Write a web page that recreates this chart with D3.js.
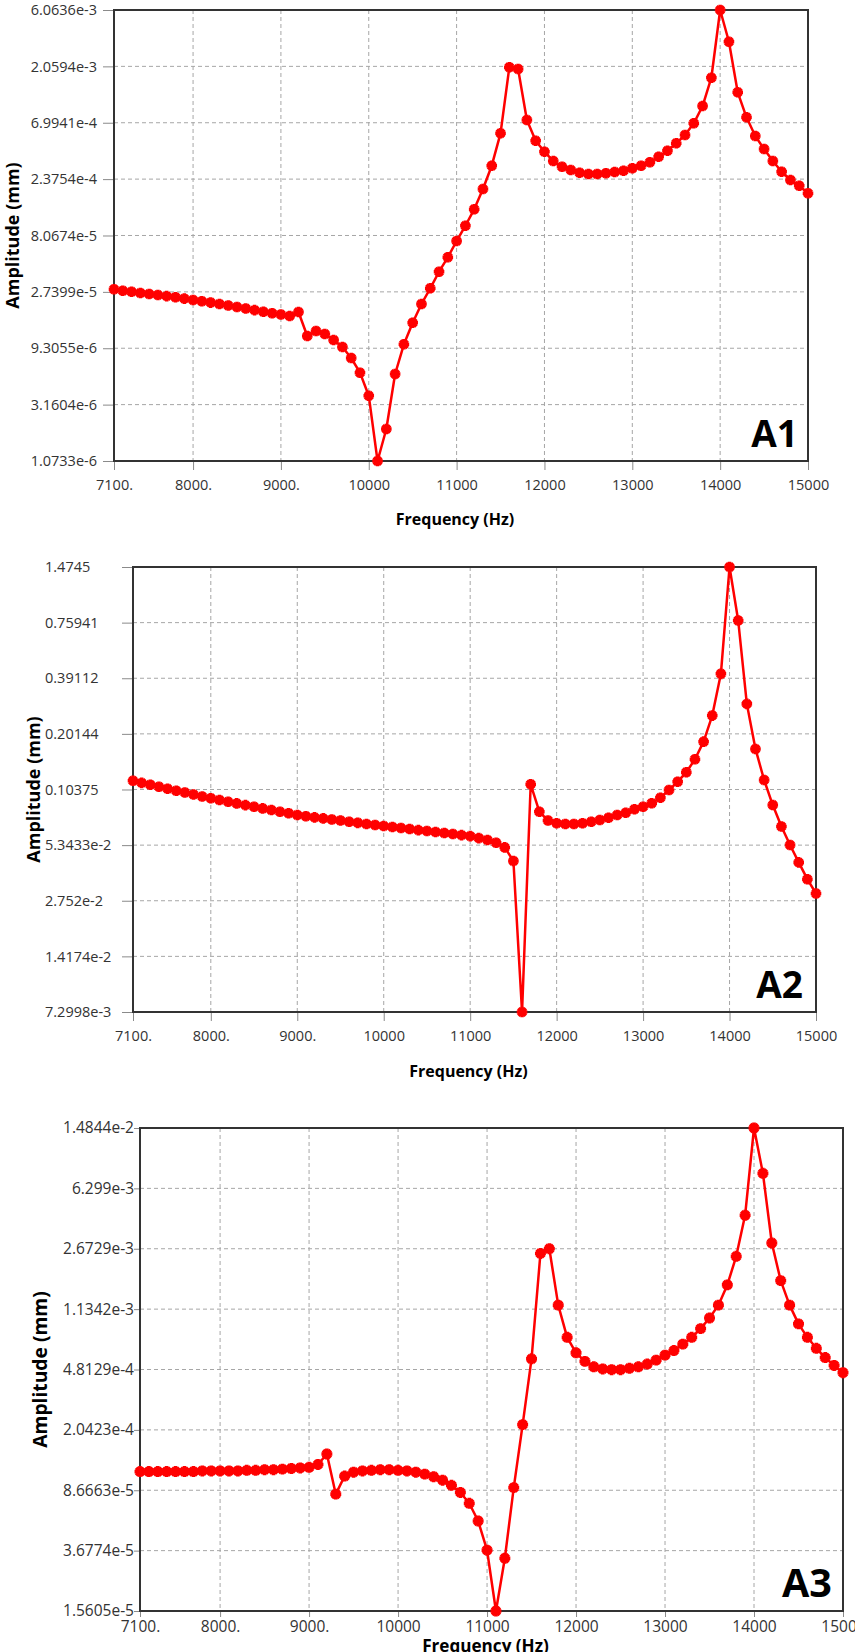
<!DOCTYPE html>
<meta charset="utf-8">
<style>
body { margin: 0; background: #fff; }
svg { display: block; font-family: "Open Sans", sans-serif; }
.grid line { stroke: #a6a6a6; stroke-width: 1px; stroke-dasharray: 4,3; }
.axis .domain { display: none; }
.axis line { stroke: #8a8a8a; stroke-width: 1px; }
.axis text { fill: #333; font-family: "Open Sans", sans-serif; }
.title { fill: #000; font-weight: bold; }
.frame { fill: none; stroke: #333; stroke-width: 2px; }
.curve { fill: none; stroke: #ff0000; stroke-width: 2.5px; stroke-linejoin: round; }
.marker { fill: #ff0000; }
.tag { font-weight: bold; fill: #000; }
</style>
<body>
<script src="https://d3js.org/d3.v7.min.js"></script>
<script>
var width = 855,
    height = 1652;

// frequency steps (Hz)
var freq = [7100, 7200, 7300, 7400, 7500, 7600, 7700, 7800, 7900, 8000,
            8100, 8200, 8300, 8400, 8500, 8600, 8700, 8800, 8900, 9000,
            9100, 9200, 9300, 9400, 9500, 9600, 9700, 9800, 9900, 10000,
            10100, 10200, 10300, 10400, 10500, 10600, 10700, 10800, 10900, 11000,
            11100, 11200, 11300, 11400, 11500, 11600, 11700, 11800, 11900, 12000,
            12100, 12200, 12300, 12400, 12500, 12600, 12700, 12800, 12900, 13000,
            13100, 13200, 13300, 13400, 13500, 13600, 13700, 13800, 13900, 14000,
            14100, 14200, 14300, 14400, 14500, 14600, 14700, 14800, 14900, 15000];

// amplitudes (mm)
var ampA1 = [2.877e-5, 2.801e-5, 2.743e-5, 2.686e-5, 2.630e-5, 2.580e-5, 2.526e-5, 2.474e-5, 2.408e-5, 2.345e-5,
             2.287e-5, 2.231e-5, 2.172e-5, 2.110e-5, 2.050e-5, 1.992e-5, 1.932e-5, 1.874e-5, 1.817e-5, 1.776e-5,
             1.726e-5, 1.863e-5, 1.177e-5, 1.295e-5, 1.222e-5, 1.090e-5, 9.53e-6, 7.72e-6, 5.83e-6, 3.75e-6,
             1.0733e-6, 1.98e-6, 5.68e-6, 1.003e-5, 1.518e-5, 2.172e-5, 2.934e-5, 4.031e-5, 5.312e-5, 7.26e-5,
             9.73e-5, 1.332e-4, 1.966e-4, 3.072e-4, 5.712e-4, 2.022e-3, 1.957e-3, 7.37e-4, 4.957e-4, 4.015e-4,
             3.360e-4, 3.013e-4, 2.828e-4, 2.686e-4, 2.620e-4, 2.620e-4, 2.655e-4, 2.722e-4, 2.790e-4, 2.921e-4,
             3.072e-4, 3.277e-4, 3.649e-4, 4.093e-4, 4.717e-4, 5.529e-4, 6.918e-4, 9.63e-4, 1.657e-3, 6.0636e-3,
             3.303e-3, 1.253e-3, 7.76e-4, 5.424e-4, 4.228e-4, 3.360e-4, 2.738e-4, 2.335e-4, 2.094e-4, 1.810e-4];

var ampA2 = [0.1152, 0.1123, 0.1097, 0.1072, 0.1046, 0.1023, 0.1000, 0.0977, 0.0955, 0.0934,
             0.0915, 0.0897, 0.0879, 0.0861, 0.0845, 0.0828, 0.0812, 0.0796, 0.0781, 0.0765,
             0.0754, 0.0744, 0.0735, 0.0725, 0.0716, 0.0706, 0.0697, 0.0688, 0.0679, 0.0671,
             0.0663, 0.0655, 0.0647, 0.0639, 0.0632, 0.0625, 0.0617, 0.0610, 0.0602, 0.0595,
             0.0581, 0.0568, 0.0550, 0.0520, 0.0442, 7.2998e-3, 0.1104, 0.0796, 0.0716, 0.0693,
             0.0687, 0.0687, 0.0693, 0.0706, 0.0721, 0.0741, 0.0765, 0.0786, 0.0819, 0.0845,
             0.0880, 0.0940, 0.1031, 0.1139, 0.1274, 0.1488, 0.1836, 0.2505, 0.4122, 1.4745,
             0.7792, 0.2881, 0.1683, 0.1162, 0.0862, 0.0668, 0.0535, 0.0435, 0.0356, 0.0300];

var ampA3 = [1.13e-4, 1.13e-4, 1.13e-4, 1.13e-4, 1.13e-4, 1.13e-4, 1.13e-4, 1.14e-4, 1.14e-4, 1.14e-4,
             1.14e-4, 1.14e-4, 1.15e-4, 1.15e-4, 1.16e-4, 1.16e-4, 1.17e-4, 1.18e-4, 1.19e-4, 1.20e-4,
             1.25e-4, 1.45e-4, 8.2e-5, 1.06e-4, 1.12e-4, 1.14e-4, 1.15e-4, 1.16e-4, 1.16e-4, 1.15e-4,
             1.14e-4, 1.12e-4, 1.09e-4, 1.05e-4, 1.0e-4, 9.3e-5, 8.4e-5, 7.2e-5, 5.6e-5, 3.7e-5,
             1.5605e-5, 3.3e-5, 9.0e-5, 2.2e-4, 5.6e-4, 2.5e-3, 2.6729e-3, 1.2e-3, 7.6e-4, 6.1e-4,
             5.4e-4, 5.0e-4, 4.85e-4, 4.8e-4, 4.8e-4, 4.9e-4, 5.0e-4, 5.2e-4, 5.5e-4, 5.9e-4,
             6.3e-4, 6.9e-4, 7.6e-4, 8.6e-4, 1.0e-3, 1.2e-3, 1.6e-3, 2.4e-3, 4.3e-3, 1.4844e-2,
             7.8e-3, 2.9e-3, 1.7e-3, 1.2e-3, 9.2e-4, 7.6e-4, 6.5e-4, 5.7e-4, 5.1e-4, 4.6e-4];

// tick labels
var xTicks = [7100, 8000, 9000, 10000, 11000, 12000, 13000, 14000, 15000];
var xTickText = ["7100.", "8000.", "9000.", "10000", "11000", "12000", "13000", "14000", "15000"];
var yTicksA1 = ["1.0733e-6", "3.1604e-6", "9.3055e-6", "2.7399e-5", "8.0674e-5", "2.3754e-4", "6.9941e-4", "2.0594e-3", "6.0636e-3"];
var yTicksA2 = ["7.2998e-3", "1.4174e-2", "2.752e-2", "5.3433e-2", "0.10375", "0.20144", "0.39112", "0.75941", "1.4745"];
var yTicksA3 = ["1.5605e-5", "3.6774e-5", "8.6663e-5", "2.0423e-4", "4.8129e-4", "1.1342e-3", "2.6729e-3", "6.299e-3", "1.4844e-2"];

var panels = [
    {tag: "A1", amp: ampA1, yTicks: yTicksA1, left: 114, right: 808, top: 10, bottom: 461,
     fs: 1, yAlign: "end", ySize: 11, yPad: 6, xSize: 9, xPad: 10,
     yTitleX: 13, xTitleY: 525, tagX: 798},
    {tag: "A2", amp: ampA2, yTicks: yTicksA2, left: 133, right: 816, top: 567, bottom: 1012,
     fs: 1, yAlign: "start", yLabelLeft: 45, ySize: 11, yPad: 6, xSize: 9, xPad: 10,
     yTitleX: 34, xTitleY: 1077, tagX: 803},
    {tag: "A3", amp: ampA3, yTicks: yTicksA3, left: 140, right: 843, top: 1128, bottom: 1611,
     fs: 1.07, yAlign: "end", ySize: 6, yPad: 0, xSize: 6, xPad: 4,
     yTitleX: 40, xTitleY: 1652, tagX: 832}
];

var svg = d3.select('body')
    .append('svg')
    .attr('width', width)
    .attr('height', height);

function drawPanel(p) {
    var g = svg.append('g');
    var x = d3.scaleLinear().domain([7100, 15000]).range([p.left, p.right]);
    var yVals = p.yTicks.map(Number);
    var y = d3.scaleLog().domain([yVals[0], yVals[yVals.length - 1]]).range([p.bottom, p.top]);

    // dashed grid
    var grid = g.append('g').attr('class', 'grid');
    grid.selectAll('line.v')
        .data(xTicks.slice(1, -1))
        .enter().append('line')
        .attr('x1', d => x(d)).attr('x2', d => x(d))
        .attr('y1', p.top).attr('y2', p.bottom);
    grid.selectAll('line.h')
        .data(yVals.slice(1, -1))
        .enter().append('line')
        .attr('x1', p.left).attr('x2', p.right)
        .attr('y1', d => y(d)).attr('y2', d => y(d));

    // axes
    g.append('g')
        .attr('class', 'axis')
        .attr('transform', 'translate(0,' + p.bottom + ')')
        .call(d3.axisBottom(x).tickValues(xTicks).tickFormat((d, i) => xTickText[i])
            .tickSize(p.xSize).tickPadding(p.xPad));

    var ay = g.append('g')
        .attr('class', 'axis')
        .attr('transform', 'translate(' + p.left + ',0)')
        .call(d3.axisLeft(y).tickValues(yVals).tickFormat((d, i) => p.yTicks[i])
            .tickSize(p.ySize).tickPadding(p.yPad));
    g.selectAll('.axis text').attr('font-size', 14.5 * p.fs);
    if (p.yAlign == "start") {
        ay.selectAll('text')
            .attr('text-anchor', 'start')
            .attr('x', p.yLabelLeft - p.left);
    }

    // frame
    g.append('rect')
        .attr('class', 'frame')
        .attr('x', p.left).attr('y', p.top)
        .attr('width', p.right - p.left)
        .attr('height', p.bottom - p.top);

    var pts = freq.map((f, i) => [f, p.amp[i]]);
    var line = d3.line().x(d => x(d[0])).y(d => y(d[1]));
    g.append('path')
        .attr('class', 'curve')
        .attr('d', line(pts));

    // blobby star markers: circle + upright and tilted crosses
    var cross = d3.symbol().type(d3.symbolCross).size(62 * p.fs);
    var mk = g.append('g').selectAll('g')
        .data(pts)
        .enter().append('g')
        .attr('class', 'marker')
        .attr('transform', d => 'translate(' + x(d[0]) + ',' + y(d[1]) + ')');
    mk.append('path').attr('d', cross);
    mk.append('path').attr('d', cross).attr('transform', 'rotate(45)');
    mk.append('circle').attr('r', 4.3 * p.fs);

    // titles
    g.append('text')
        .attr('class', 'title')
        .attr('text-anchor', 'middle')
        .attr('font-size', 16 * p.fs)
        .attr('x', (p.left + p.right) / 2 - 6)
        .attr('y', p.xTitleY)
        .text('Frequency (Hz)');
    g.append('text')
        .attr('class', 'title')
        .attr('text-anchor', 'middle')
        .attr('font-size', 18 * p.fs)
        .attr('transform', 'translate(' + p.yTitleX + ',' + ((p.top + p.bottom) / 2) + ') rotate(-90)')
        .attr('dy', '0.35em')
        .text('Amplitude (mm)');

    g.append('text')
        .attr('class', 'tag')
        .attr('font-size', 37 * p.fs)
        .attr('text-anchor', 'end')
        .attr('x', p.tagX)
        .attr('y', p.bottom - 14)
        .text(p.tag);
}

panels.forEach(drawPanel);
</script>
</body>
</html>
